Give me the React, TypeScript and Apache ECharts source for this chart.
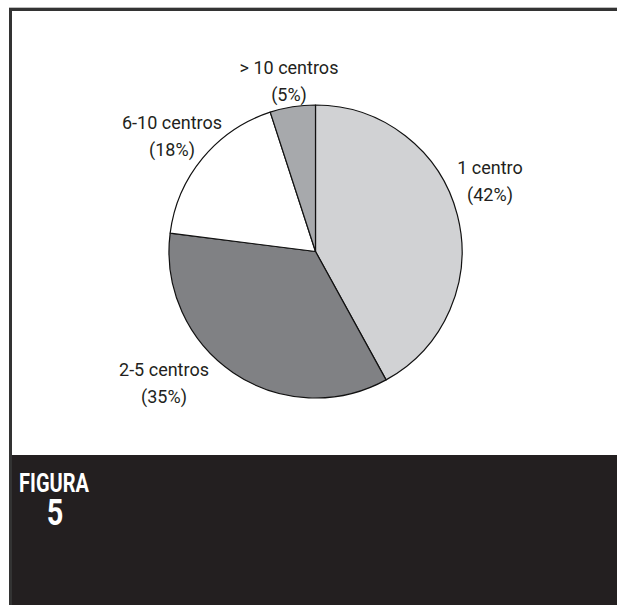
import React, { useEffect, useRef } from "react";
import * as echarts from "echarts";

const categories = ["1 centro", "2-5 centros", "6-10 centros", "> 10 centros"];
const shares = [42, 35, 18, 5];
const sliceColors = ["#d1d2d4", "#808184", "#ffffff", "#a7a9ac"];
const labelSpots = [
  [490, 181],
  [164, 383],
  [172, 136],
  [289, 81],
];
const figureWord = "FIGURA";
const figureNumber = "5";

const FONT = "Roboto, 'Liberation Sans', sans-serif";

export default function App() {
  const ref = useRef<HTMLDivElement>(null);
  useEffect(() => {
    if (!ref.current) return;
    const chart = echarts.init(ref.current, null, { renderer: "svg" });
    chart.setOption({
      animation: false,
      backgroundColor: "#ffffff",
      graphic: [
        { type: "rect", z: -10, shape: { x: 9, y: 7, width: 608, height: 598 }, style: { fill: "#bdbdbd" } },
        { type: "rect", z: -9, shape: { x: 9, y: 8, width: 608, height: 597 }, style: { fill: "#333333" } },
        { type: "rect", z: -8, shape: { x: 12, y: 11, width: 605, height: 444 }, style: { fill: "#ffffff" } },
        { type: "rect", z: -8, shape: { x: 12, y: 455, width: 605, height: 150 }, style: { fill: "#231f20" } },
        {
          type: "text",
          x: 54,
          y: 484,
          scaleX: 0.8,
          style: {
            text: figureWord,
            fill: "#ffffff",
            font: `bold 25px ${FONT}`,
            lineHeight: 20,
            align: "center",
            verticalAlign: "middle",
          },
        },
        {
          type: "text",
          x: 55,
          y: 512,
          scaleX: 0.78,
          style: {
            text: figureNumber,
            fill: "#ffffff",
            font: `bold 37px ${FONT}`,
            lineHeight: 28,
            align: "center",
            verticalAlign: "middle",
          },
        },
      ],
      series: [
        {
          type: "pie",
          center: [315.5, 251.5],
          radius: 146.5,
          startAngle: 90,
          clockwise: true,
          avoidLabelOverlap: false,
          itemStyle: { borderColor: "#111111", borderWidth: 1.2 },
          label: {
            show: true,
            position: "outside",
            formatter: "{b}\n({c}%)",
            fontFamily: FONT,
            fontSize: 18,
            lineHeight: 27,
            color: "#231f20",
          },
          labelLine: { show: false },
          labelLayout: (params: any) => {
            const p = labelSpots[params.dataIndex];
            return { x: p[0], y: p[1], align: "center", verticalAlign: "middle" };
          },
          emphasis: { disabled: true },
          data: categories.map((name, i) => ({
            name,
            value: shares[i],
            itemStyle: { color: sliceColors[i] },
          })),
        },
      ],
    });
    return () => chart.dispose();
  }, []);
  return (
    <div
      ref={ref}
      style={{ position: "fixed", left: 0, top: 0, width: 617, height: 605 }}
    />
  );
}
